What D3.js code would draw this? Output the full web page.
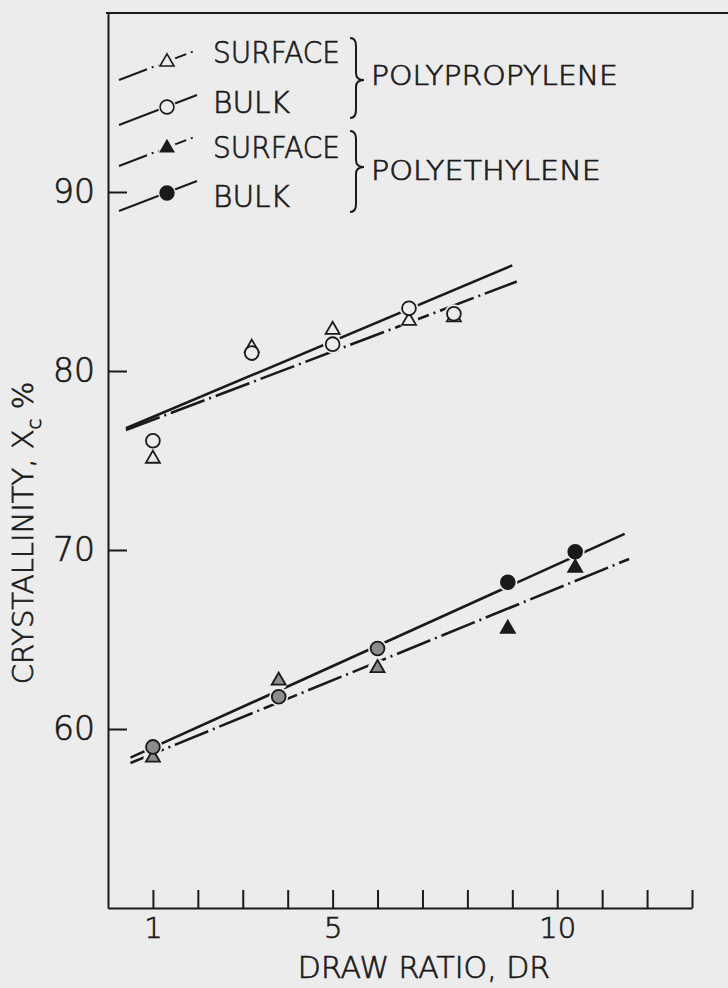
<!DOCTYPE html>
<html>
<head>
<meta charset="utf-8">
<script src="https://cdn.jsdelivr.net/npm/d3@7"></script>
<style>
  body { margin: 0; background: #ececec; }
  svg { display: block; }
  text { font-family: 'DejaVu Sans', sans-serif; font-weight: 200; fill: #1a1a1a; stroke: #1a1a1a; stroke-width: 0.7px; }
</style>
</head>
<body>
<script>
var paper = '#ececec',
    ink = '#1a1a1a';

// Polypropylene: draw ratio vs crystallinity (%)
var ppDR      = [1, 3.2, 5, 6.7, 7.7];
var ppSurface = [75.1, 81.3, 82.3, 82.8, 83.0];
var ppBulk    = [76.1, 81.0, 81.5, 83.5, 83.2];
// Polyethylene
var peDR      = [1, 3.8, 6, 8.9, 10.4];
var peSurface = [58.4, 62.7, 63.4, 65.6, 69.0];
var peBulk    = [59.0, 61.8, 64.5, 68.2, 69.9];

// straight fitted lines, end points [DR, Xc]
var ppBulkFit    = [[0.4, 76.8], [9.0, 85.9]];
var ppSurfaceFit = [[0.4, 76.7], [9.1, 85.0]];
var peBulkFit    = [[0.5, 58.4], [11.5, 70.9]];
var peSurfaceFit = [[0.5, 58.1], [11.6, 69.5]];

var xTicks = d3.range(1, 14);
var xTickLabels = [1, 5, 10];
var yTicks = [60, 70, 80, 90];

var legendRows = [
    { label: 'SURFACE', mark: 'triangle', filled: false, dashed: true },
    { label: 'BULK',    mark: 'circle',   filled: false, dashed: false },
    { label: 'SURFACE', mark: 'triangle', filled: true,  dashed: true },
    { label: 'BULK',    mark: 'circle',   filled: true,  dashed: false }
];
var groupLabels = ['POLYPROPYLENE', 'POLYETHYLENE'];

var w = 728,
    h = 988;
var dashDot = '36,5,2,5';

var svg = d3.select('body')
    .append('svg')
    .attr('width', w)
    .attr('height', h);

svg.append('rect')
    .attr('width', w)
    .attr('height', h)
    .attr('fill', paper);

var x = d3.scaleLinear().domain([0, 13]).range([108, 692]);
var y = d3.scaleLinear().domain([50, 100]).range([908, 13]);

// axes, ticks point inward
var xAxis = d3.axisBottom(x)
    .tickValues(xTicks)
    .tickSizeInner(-18)
    .tickSizeOuter(0)
    .tickPadding(9)
    .tickFormat(function(d) { return xTickLabels.indexOf(d) >= 0 ? d : ''; });

var yAxis = d3.axisLeft(y)
    .tickValues(yTicks)
    .tickSizeInner(-19)
    .tickSizeOuter(0)
    .tickPadding(13);

var gx = svg.append('g')
    .attr('transform', 'translate(0,' + y(50) + ')')
    .call(xAxis);
var gy = svg.append('g')
    .attr('transform', 'translate(' + x(0) + ',0)')
    .call(yAxis);

[gx, gy].forEach(function(g) {
    g.attr('font-family', null).attr('font-size', null);
    g.selectAll('path, line')
        .attr('stroke', ink)
        .attr('stroke-width', 2);
});
gx.selectAll('text').style('font-size', '29px');
gy.selectAll('text').style('font-size', '33px');

// top frame line
svg.append('line')
    .attr('x1', x(0) - 2)
    .attr('x2', w)
    .attr('y1', y(100))
    .attr('y2', y(100))
    .attr('stroke', ink)
    .attr('stroke-width', 2);

// axis titles
svg.append('text')
    .attr('x', 424)
    .attr('y', 978)
    .attr('text-anchor', 'middle')
    .style('font-size', '30px')
    .text('DRAW RATIO, DR');

var yt = svg.append('text')
    .attr('transform', 'translate(33,533) rotate(-90)')
    .attr('text-anchor', 'middle')
    .style('font-size', '29px');
yt.append('tspan').text('CRYSTALLINITY, X');
yt.append('tspan').text('c').attr('dy', 8).style('font-size', '20px');
yt.append('tspan').text(' %').attr('dy', -8);

// fitted lines
var line = d3.line()
    .x(function(d) { return x(d[0]); })
    .y(function(d) { return y(d[1]); });

[[ppBulkFit, false], [ppSurfaceFit, true], [peBulkFit, false], [peSurfaceFit, true]]
    .forEach(function(f) {
        svg.append('path')
            .attr('d', line(f[0]))
            .attr('fill', 'none')
            .attr('stroke', ink)
            .attr('stroke-width', 2.6)
            .attr('stroke-dasharray', f[1] ? dashDot : null);
    });

// points
var points = [];
ppDR.forEach(function(d, i) {
    points.push({ x: d, y: ppSurface[i], mark: 'triangle', filled: false });
    points.push({ x: d, y: ppBulk[i], mark: 'circle', filled: false });
});
peDR.forEach(function(d, i) {
    points.push({ x: d, y: peSurface[i], mark: 'triangle', filled: true });
    points.push({ x: d, y: peBulk[i], mark: 'circle', filled: true });
});

var triSym = d3.symbol(d3.symbolTriangle, 85),
    cirSym = d3.symbol(d3.symbolCircle, 150);

function fillFor(d) {
    if (!d.filled) return paper;
    return d.x < 7 ? '#8c8c8c' : ink; // earlier polyethylene marks print lighter
}

// paper-coloured halo makes the gaps in the lines around the marks
svg.append('g').selectAll('circle')
    .data(points)
    .join('circle')
    .attr('cx', function(d) { return x(d.x); })
    .attr('cy', function(d) { return y(d.y); })
    .attr('r', 9.5)
    .attr('fill', paper);

svg.append('g').selectAll('path')
    .data(points)
    .join('path')
    .attr('transform', function(d) { return 'translate(' + x(d.x) + ',' + y(d.y) + ')'; })
    .attr('d', function(d) { return d.mark == 'triangle' ? triSym() : cirSym(); })
    .attr('fill', fillFor)
    .attr('stroke', ink)
    .attr('stroke-width', 1.8);

// legend
var legendY = [62, 107, 148, 193],
    labelY = [63, 113, 158, 207],
    markX = 167;

legendRows.forEach(function(r, i) {
    var my = legendY[i];
    var seg = svg.append('g');
    seg.append('line')
        .attr('x1', markX - 48).attr('y1', my + 18)
        .attr('x2', markX + 30).attr('y2', my - 12)
        .attr('stroke', ink)
        .attr('stroke-width', 2)
        .attr('stroke-dasharray', r.dashed ? '30,5,2,5' : null);
    seg.append('circle')
        .attr('cx', markX).attr('cy', my)
        .attr('r', 9)
        .attr('fill', paper);
    seg.append('path')
        .attr('transform', 'translate(' + markX + ',' + my + ')')
        .attr('d', r.mark == 'triangle' ? triSym.size(r.filled ? 75 : 85)() : cirSym())
        .attr('fill', r.filled ? ink : paper)
        .attr('stroke', ink)
        .attr('stroke-width', 1.6);
    svg.append('text')
        .attr('x', 213)
        .attr('y', labelY[i])
        .attr('textLength', r.label == 'BULK' ? 77 : 127)
        .attr('lengthAdjust', 'spacingAndGlyphs')
        .style('font-size', '31px')
        .text(r.label);
});
triSym.size(85);

// braces
function brace(y0, y1, ym) {
    var h0 = 350, s = 356, t = 364;
    return 'M' + h0 + ',' + y0 +
        'Q' + s + ',' + y0 + ' ' + s + ',' + (y0 + 8) +
        'L' + s + ',' + (ym - 7) +
        'Q' + s + ',' + ym + ' ' + t + ',' + ym +
        'Q' + s + ',' + ym + ' ' + s + ',' + (ym + 7) +
        'L' + s + ',' + (y1 - 8) +
        'Q' + s + ',' + y1 + ' ' + h0 + ',' + y1;
}
[[38, 118, 80], [131, 212, 167]].forEach(function(b, i) {
    svg.append('path')
        .attr('d', brace(b[0], b[1], b[2]))
        .attr('fill', 'none')
        .attr('stroke', ink)
        .attr('stroke-width', 2);
    svg.append('text')
        .attr('x', 371)
        .attr('y', [85, 180][i])
        .attr('textLength', [247, 230][i])
        .attr('lengthAdjust', 'spacingAndGlyphs')
        .style('font-size', '27px')
        .text(groupLabels[i]);
});
</script>
</body>
</html>
